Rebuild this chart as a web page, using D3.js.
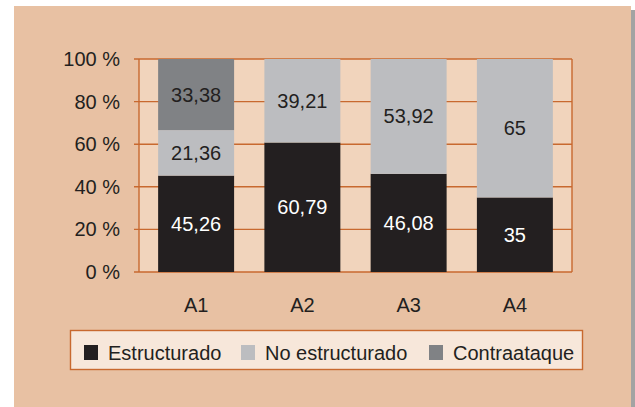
<!DOCTYPE html>
<html>
<head>
<meta charset="utf-8">
<script src="https://cdn.jsdelivr.net/npm/d3@7"></script>
<style>
  body { margin: 0; background: #ffffff; }
  text { font-family: "Liberation Sans", Arial, sans-serif; fill: #231f20; }
</style>
</head>
<body>
<div id="chart"></div>
<script>
// Données du graphique
var categories = ["A1", "A2", "A3", "A4"];
var estructurado = [45.26, 60.79, 46.08, 35];
var noEstructurado = [21.36, 39.21, 53.92, 65];
var contraataque = [33.38, 0, 0, 0];
var seriesNames = ["Estructurado", "No estructurado", "Contraataque"];
var yTicks = [0, 20, 40, 60, 80, 100];

var width = 635,
    height = 407;

var colors = ["#231f20", "#bcbdc0", "#808285"];
var labelColors = ["#ffffff", "#231f20", "#231f20"];
var orange = "#c8692f";
var fontSize = "20px";

var svg = d3
    .select("#chart")
    .append("svg")
    .attr("width", width)
    .attr("height", height);

// Fond du panneau + ombre à droite
svg.append("rect")
    .attr("x", 631).attr("y", 10)
    .attr("width", 4).attr("height", height - 10)
    .attr("fill", "#a3a3a3");
svg.append("rect")
    .attr("x", 14).attr("y", 6)
    .attr("width", 617).attr("height", height - 6)
    .attr("fill", "#e8c1a3");

var plot = { left: 139, right: 572, top: 59, bottom: 272 };

var x = d3.scaleBand()
    .domain(categories)
    .range([plot.left, plot.right])
    .paddingInner(0.285)
    .paddingOuter(0.18);

var y = d3.scaleLinear()
    .domain([0, 100])
    .range([plot.bottom, plot.top]);

// Zone du graphique
svg.append("rect")
    .attr("x", plot.left).attr("y", plot.top)
    .attr("width", plot.right - plot.left)
    .attr("height", plot.bottom - plot.top)
    .attr("fill", "#f1d4bc");

// Lignes de grille
svg.append("g")
    .selectAll("line")
    .data(yTicks)
    .enter()
    .append("line")
    .attr("x1", plot.left - 5)
    .attr("x2", plot.right)
    .attr("y1", function (d) { return y(d); })
    .attr("y2", function (d) { return y(d); })
    .attr("stroke", orange)
    .attr("stroke-width", 1.4);

// bordure droite et axe gauche
svg.append("line")
    .attr("x1", plot.right).attr("x2", plot.right)
    .attr("y1", plot.top).attr("y2", plot.bottom)
    .attr("stroke", orange).attr("stroke-width", 1.4);
svg.append("line")
    .attr("x1", plot.left).attr("x2", plot.left)
    .attr("y1", plot.top).attr("y2", plot.bottom)
    .attr("stroke", orange).attr("stroke-width", 1.4);

// Empilement des données
var table = categories.map(function (c, i) {
    return {
        cat: c,
        "Estructurado": estructurado[i],
        "No estructurado": noEstructurado[i],
        "Contraataque": contraataque[i]
    };
});
var stacked = d3.stack().keys(seriesNames)(table);

var layers = svg.append("g")
    .selectAll("g")
    .data(stacked)
    .enter()
    .append("g")
    .attr("fill", function (d, i) { return colors[i]; });

layers.selectAll("rect")
    .data(function (d) { return d.filter(function (s) { return s[1] - s[0] > 0; }); })
    .enter()
    .append("rect")
    .attr("x", function (d) { return x(d.data.cat); })
    .attr("width", x.bandwidth())
    .attr("y", function (d) { return y(d[1]); })
    .attr("height", function (d) { return y(d[0]) - y(d[1]); });

// Etiquettes de valeurs
stacked.forEach(function (layer, i) {
    svg.append("g")
        .selectAll("text")
        .data(layer.filter(function (d) { return d[1] - d[0] > 0; }))
        .enter()
        .append("text")
        .attr("x", function (d) { return x(d.data.cat) + x.bandwidth() / 2; })
        .attr("y", function (d) { return (y(d[0]) + y(d[1])) / 2; })
        .attr("dy", "0.35em")
        .attr("text-anchor", "middle")
        .style("font-size", fontSize)
        .style("fill", labelColors[i])
        .text(function (d) { return String(d.data[layer.key]).replace(".", ","); });
});

// Etiquettes de l'axe Y
svg.append("g")
    .selectAll("text")
    .data(yTicks)
    .enter()
    .append("text")
    .attr("x", 120)
    .attr("y", function (d) { return y(d); })
    .attr("dy", "0.35em")
    .attr("text-anchor", "end")
    .style("font-size", fontSize)
    .text(function (d) { return d + " %"; });

// Etiquettes de l'axe X
svg.append("g")
    .selectAll("text")
    .data(categories)
    .enter()
    .append("text")
    .attr("x", function (d) { return x(d) + x.bandwidth() / 2; })
    .attr("y", 312)
    .attr("text-anchor", "middle")
    .style("font-size", fontSize)
    .text(function (d) { return d; });

// Légende
svg.append("rect")
    .attr("x", 70.5).attr("y", 330.5)
    .attr("width", 512).attr("height", 39)
    .attr("fill", "#f7e7da")
    .attr("stroke", orange)
    .attr("stroke-width", 1.4);

var legendX = [84, 241, 429];
var legend = svg.append("g")
    .selectAll("g")
    .data(seriesNames)
    .enter()
    .append("g")
    .attr("transform", function (d, i) { return "translate(" + legendX[i] + ",345)"; });

legend.append("rect")
    .attr("width", 14)
    .attr("height", 15)
    .attr("fill", function (d, i) { return colors[i]; });

legend.append("text")
    .attr("x", 24)
    .attr("y", 14.5)
    .style("font-size", fontSize)
    .text(function (d) { return d; });
</script>
</body>
</html>
